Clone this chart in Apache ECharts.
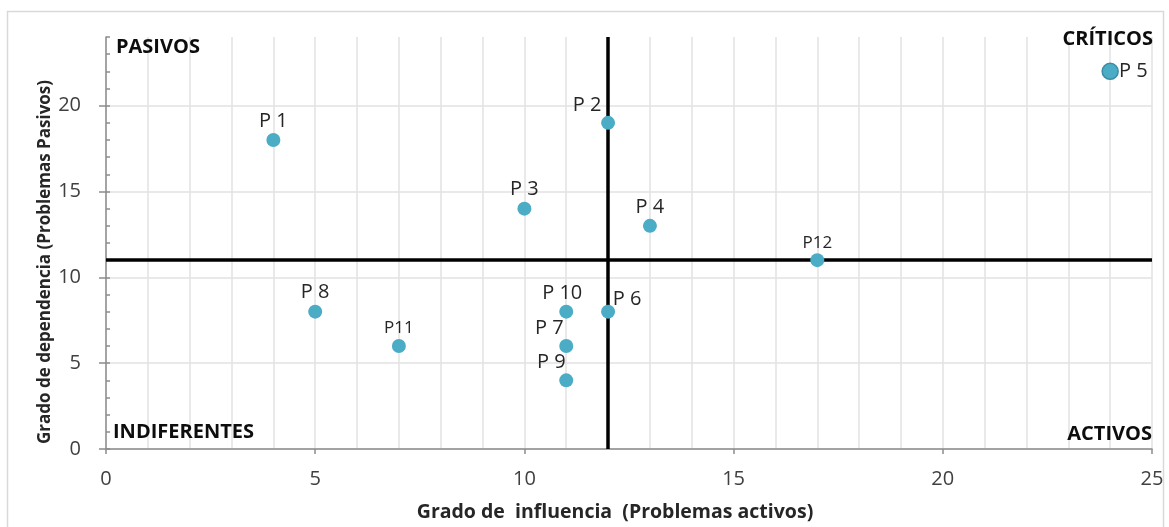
<!DOCTYPE html>
<html>
<head>
<meta charset="utf-8">
<script src="https://cdn.jsdelivr.net/npm/echarts@6/dist/echarts.min.js"></script>
<style>
html,body{margin:0;padding:0;background:#fff;}
#chart{width:1169px;height:527px;}
</style>
</head>
<body>
<div id="chart"></div>
<script>
// ---- data ----
var names = ['P 1','P 2','P 3','P 4','P 5','P 6','P 7','P 8','P 9','P 10','P11','P12'];
var influence = [4, 12, 10, 13, 24, 12, 11, 5, 11, 11, 7, 17];   // x: Grado de influencia
var dependence = [18, 19, 14, 13, 22, 8, 6, 8, 4, 8, 6, 11];      // y: Grado de dependencia
var xTicks = [0, 5, 10, 15, 20, 25];
var yTicks = [0, 5, 10, 15, 20];
var xCut = 12;
var yCut = 11;
var quadrantLabels = ['PASIVOS', 'CRÍTICOS', 'INDIFERENTES', 'ACTIVOS'];
var xTitle = 'Grado de  influencia  (Problemas activos)';
var yTitle = 'Grado de dependencia (Problemas Pasivos)';

// ---- label placement (style only) ----
var FONT = '"Open Sans", sans-serif';
var labelStyle = {
  'P 2': {position: 'top', offset: [-21, 1]},
  'P 5': {position: 'right', distance: 0},
  'P 6': {position: 'top', offset: [19, 7]},
  'P 7': {position: 'top', offset: [-17, 1]},
  'P 9': {position: 'top', offset: [-15, 1]},
  'P 10': {position: 'top', offset: [-4, 1]},
  'P11': {position: 'top', fontSize: 17},
  'P12': {position: 'top', fontSize: 17}
};

var points = names.map(function (n, i) {
  var ls = labelStyle[n] || {position: 'top'};
  var item = {
    name: n,
    value: [influence[i], dependence[i]],
    label: Object.assign({show: true, formatter: n, fontSize: 20, distance: 2}, ls)
  };
  if (n === 'P 5') {
    item.symbolSize = 16;
    item.itemStyle = {borderColor: '#3a8ca3', borderWidth: 1.5};
  }
  return item;
});

var chart = echarts.init(document.getElementById('chart'), null, {renderer: 'canvas'});
var gridColor = '#e2e2e2';
var axisColor = '#8c8c8c';

chart.setOption({
  animation: false,
  backgroundColor: '#fff',
  textStyle: {fontFamily: FONT},
  grid: {left: 106, right: 17, top: 37, bottom: 78},
  xAxis: {
    type: 'value', min: 0, max: 25, interval: 5,
    axisLine: {show: true, lineStyle: {color: axisColor, width: 1.5}},
    axisTick: {show: true, length: 5, lineStyle: {color: axisColor, width: 1.5}, customValues: xTicks},
    axisLabel: {color: '#404040', fontSize: 20, margin: 20, fontFamily: FONT, customValues: xTicks},
    splitLine: {show: true, lineStyle: {color: gridColor, width: 1.5}},
    minorTick: {show: false, splitNumber: 5},
    minorSplitLine: {show: true, lineStyle: {color: gridColor, width: 1.5}}
  },
  yAxis: [{
    type: 'value', min: 0, max: 24, interval: 1,
    axisLine: {show: true, lineStyle: {color: axisColor, width: 1.5}},
    axisTick: {show: true, length: 7, lineStyle: {color: axisColor, width: 1.5}, customValues: yTicks},
    axisLabel: {color: '#404040', fontSize: 20, margin: 25, fontFamily: FONT, customValues: yTicks},
    splitLine: {show: true, lineStyle: {color: gridColor, width: 1.5}}
  }, {
    type: 'value', min: 0, max: 24, interval: 1, position: 'left',
    axisLine: {show: false},
    axisTick: {show: true, inside: true, length: 4, lineStyle: {color: axisColor, width: 1.5}},
    axisLabel: {show: false},
    splitLine: {show: false}
  }],
  graphic: [
    {type: 'rect', silent: true, z: -1, shape: {x: 7.5, y: 11.5, width: 1156, height: 540},
     style: {fill: 'none', stroke: '#d9d9d9', lineWidth: 1.5}},
    {type: 'text', x: 615, y: 512, z: 100,
     style: {text: xTitle, fontSize: 19.5, fontWeight: 'bold', fill: '#262626', fontFamily: FONT, align: 'center', verticalAlign: 'middle'}},
    {type: 'text', x: 45, y: 262, rotation: Math.PI / 2, z: 100,
     style: {text: yTitle, fontSize: 17, fontWeight: 'bold', fill: '#262626', fontFamily: FONT, align: 'center', verticalAlign: 'middle'}},
    {type: 'text', left: 116, top: 37, z: 100, style: {text: quadrantLabels[0], fontSize: 20, fontWeight: 'bold', fill: '#0d0d0d', fontFamily: FONT}},
    {type: 'text', right: 16, top: 29, z: 100, style: {text: quadrantLabels[1], fontSize: 20, fontWeight: 'bold', fill: '#0d0d0d', fontFamily: FONT}},
    {type: 'text', left: 113, top: 422, z: 100, style: {text: quadrantLabels[2], fontSize: 20, fontWeight: 'bold', fill: '#0d0d0d', fontFamily: FONT}},
    {type: 'text', right: 17, top: 424, z: 100, style: {text: quadrantLabels[3], fontSize: 20, fontWeight: 'bold', fill: '#0d0d0d', fontFamily: FONT}}
  ],
  series: [{
    type: 'scatter',
    yAxisIndex: 0,
    symbolSize: 14,
    itemStyle: {color: '#4bacc6', opacity: 1},
    label: {color: '#262626', fontFamily: FONT},
    data: points,
    z: 10,
    markLine: {
      silent: true,
      symbol: ['none', 'none'],
      label: {show: false},
      lineStyle: {color: '#000', width: 3.5, type: 'solid'},
      data: [{xAxis: xCut}, {yAxis: yCut}],
      z: 5
    }
  }]
});
</script>
</body>
</html>
